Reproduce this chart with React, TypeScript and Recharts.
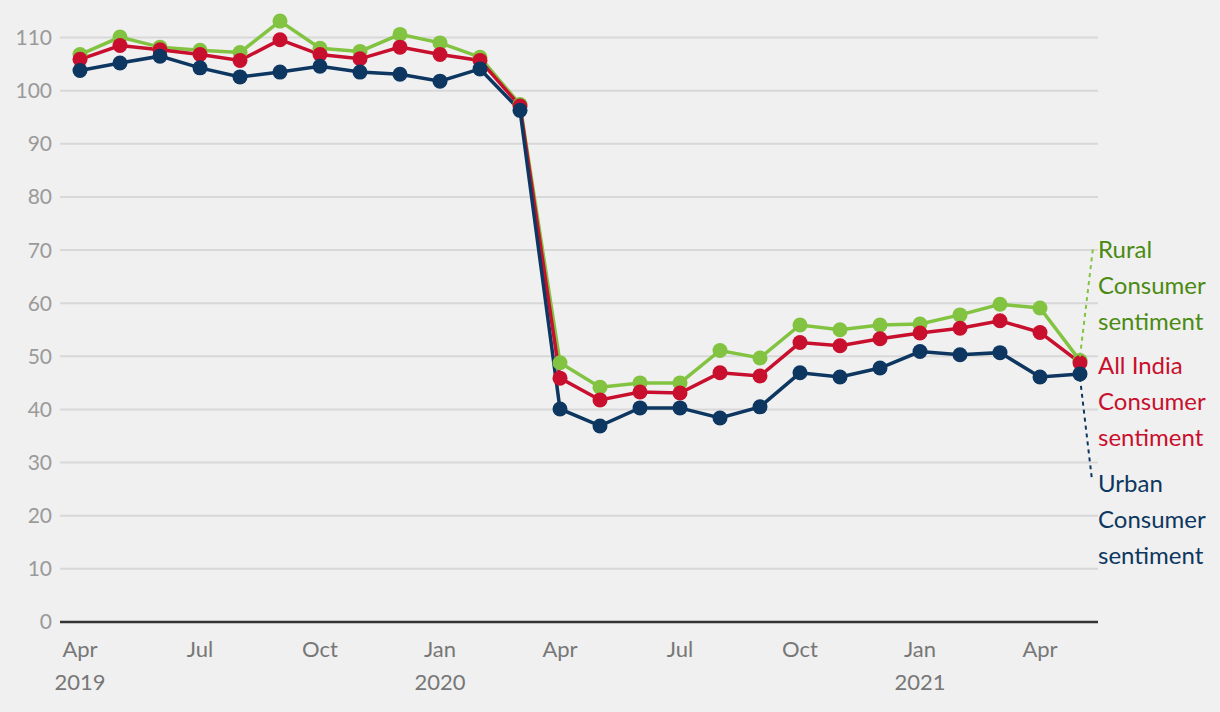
import React from "react";
import {
  LineChart,
  Line,
  XAxis,
  YAxis,
  CartesianGrid,
  LabelList,
} from "recharts";

// Consumer sentiment index, Apr 2019 - May 2021 (monthly)
const months = [
  "Apr", "May", "Jun", "Jul", "Aug", "Sep", "Oct", "Nov", "Dec", "Jan", "Feb", "Mar",
  "Apr", "May", "Jun", "Jul", "Aug", "Sep", "Oct", "Nov", "Dec", "Jan", "Feb", "Mar",
  "Apr", "May",
];
const years = [
  "2019", "", "", "", "", "", "", "", "", "2020", "", "",
  "", "", "", "", "", "", "", "", "", "2021", "", "",
  "", "",
];
const rural = [
  106.8, 110.1, 108.2, 107.6, 107.2, 113.1, 108.0, 107.4, 110.6, 109.0, 106.3, 97.4,
  48.8, 44.2, 45.0, 45.0, 51.1, 49.7, 55.9, 55.0, 55.9, 56.1, 57.8, 59.8,
  59.1, 49.2,
];
const allIndia = [
  105.9, 108.5, 107.7, 106.8, 105.7, 109.6, 106.8, 106.0, 108.2, 106.8, 105.7, 97.1,
  45.9, 41.8, 43.3, 43.1, 46.9, 46.3, 52.6, 52.0, 53.3, 54.4, 55.3, 56.7,
  54.5, 48.8,
];
const urban = [
  103.8, 105.2, 106.5, 104.3, 102.6, 103.5, 104.6, 103.5, 103.1, 101.8, 104.1, 96.3,
  40.1, 36.9, 40.3, 40.3, 38.4, 40.5, 46.9, 46.1, 47.8, 50.9, 50.3, 50.7,
  46.1, 46.7,
];
const xTicks = [0, 3, 6, 9, 12, 15, 18, 21, 24];
const yTicks = [0, 10, 20, 30, 40, 50, 60, 70, 80, 90, 100, 110];

const GREEN = "#82c341";
const GREEN_TEXT = "#4b8a12";
const RED = "#c8102e";
const BLUE = "#0d3760";
const FONT = "Lato, 'Open Sans', sans-serif";

const data = months.map((m, i) => ({
  i,
  month: m,
  year: years[i],
  rural: rural[i],
  allIndia: allIndia[i],
  urban: urban[i],
}));

const LAST = data.length - 1;

function MonthTick(props: any) {
  const { x, y, payload } = props;
  const d = data[payload.value];
  return (
    <g>
      <text x={x} y={y} dy={27} textAnchor="middle" fill="#777" fontSize={22} fontFamily={FONT}>
        {d.month}
      </text>
      {d.year && (
        <text x={x} y={y} dy={60} textAnchor="middle" fill="#777" fontSize={22} fontFamily={FONT}>
          {d.year}
        </text>
      )}
    </g>
  );
}

// end-of-line label with an optional dotted leader running to the text block
function endLabel(lines: string[], color: string, lineColor: string, top: number, leader: "up" | "down" | null) {
  return (props: any) => {
    const { x, y, index } = props;
    if (index !== LAST) return null;
    const tx = 1098;
    return (
      <g>
        {leader === "up" && (
          <line x1={x} y1={y - 4} x2={x + 13} y2={top - 2} stroke={lineColor} strokeWidth={2} strokeDasharray="4 4" />
        )}
        {leader === "down" && (
          <line x1={x} y1={y + 4} x2={x + 12} y2={top - 4} stroke={lineColor} strokeWidth={2} strokeDasharray="4 4" />
        )}
        {lines.map((t, k) => (
          <text key={k} x={tx} y={top + k * 36} dy={8} fill={color} fontSize={24} fontFamily={FONT}>
            {t}
          </text>
        ))}
      </g>
    );
  };
}

export default function App() {
  return (
    <div style={{ position: "fixed", top: 0, left: 0, width: 1220, height: 712, background: "#f0f0f0", overflow: "hidden" }}>
      <LineChart
        width={1220}
        height={712}
        data={data}
        margin={{ top: 11, right: 122, bottom: 0, left: 8 }}
      >
        <CartesianGrid vertical={false} stroke="#d8d8d8" strokeWidth={2} syncWithTicks horizontalValues={yTicks} />
        <XAxis
          dataKey="i"
          type="number"
          domain={[0, LAST]}
          ticks={xTicks}
          padding={{ left: 20, right: 18 }}
          tickLine={false}
          axisLine={{ stroke: "#333", strokeWidth: 2.5 }}
          tick={<MonthTick />}
          height={90}
          interval={0}
        />
        <YAxis
          domain={[0, 115]}
          ticks={yTicks}
          axisLine={false}
          tickLine={false}
          width={52}
          tick={{ fill: "#9a9a9a", fontSize: 21, fontFamily: FONT }}
        />
        <Line
          dataKey="rural"
          stroke={GREEN}
          strokeWidth={3.5}
          dot={{ r: 7.5, fill: GREEN, stroke: "none" }}
          isAnimationActive={false}
        >
          <LabelList
            dataKey="rural"
            content={endLabel(["Rural", "Consumer", "sentiment"], GREEN_TEXT, GREEN, 250, "up")}
          />
        </Line>
        <Line
          dataKey="allIndia"
          stroke={RED}
          strokeWidth={3.5}
          dot={{ r: 7.5, fill: RED, stroke: "none" }}
          isAnimationActive={false}
        >
          <LabelList
            dataKey="allIndia"
            content={endLabel(["All India", "Consumer", "sentiment"], RED, RED, 366, null)}
          />
        </Line>
        <Line
          dataKey="urban"
          stroke={BLUE}
          strokeWidth={3.5}
          dot={{ r: 7.5, fill: BLUE, stroke: "none" }}
          isAnimationActive={false}
        >
          <LabelList
            dataKey="urban"
            content={endLabel(["Urban", "Consumer", "sentiment"], BLUE, BLUE, 484, "down")}
          />
        </Line>
      </LineChart>
    </div>
  );
}
